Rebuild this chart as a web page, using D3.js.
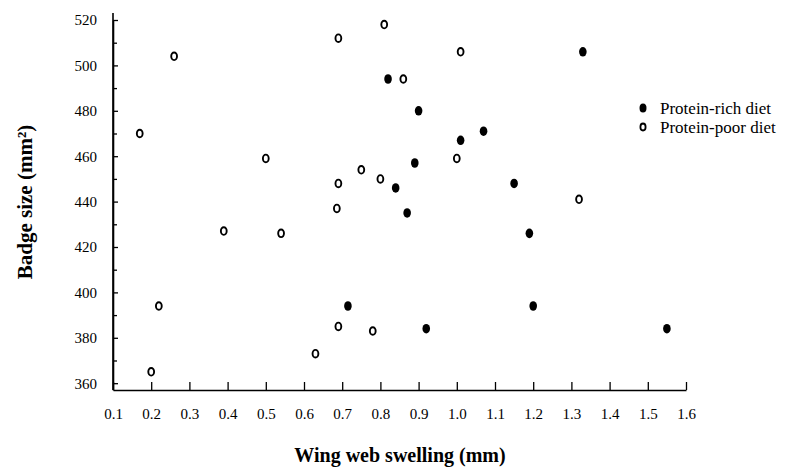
<!DOCTYPE html>
<html>
<head>
<meta charset="utf-8">
<script src="https://cdn.jsdelivr.net/npm/d3@7"></script>
<style>
  body { margin: 0; background: #fff; }
  svg text { font-family: "Liberation Serif", "DejaVu Serif", serif; fill: #000; }
</style>
</head>
<body>
<div id="chart"></div>
<script>
// wing web swelling (mm) and badge size (mm²)
const richX = [0.82, 0.90, 1.07, 1.01, 0.89, 1.15, 0.84, 0.87, 1.19, 1.33, 0.715, 0.92, 1.20, 1.55];
const richY = [494, 480, 471, 467, 457, 448, 446, 435, 426, 506, 394, 384, 394, 384];
const poorX = [0.26, 0.69, 0.81, 0.86, 0.17, 0.50, 0.75, 0.80, 0.69, 0.686, 0.39, 0.54, 0.22, 0.20, 0.69, 0.78, 0.63, 1.01, 1.00, 1.32];
const poorY = [504, 512, 518, 494, 470, 459, 454, 450, 448, 437, 427, 426, 394, 365, 385, 383, 373, 506, 459, 441];
const xTicks = [0.1, 0.2, 0.3, 0.4, 0.5, 0.6, 0.7, 0.8, 0.9, 1.0, 1.1, 1.2, 1.3, 1.4, 1.5, 1.6];
const yTicks = [360, 380, 400, 420, 440, 460, 480, 500, 520];
const yMinorTicks = [370, 390, 410, 430, 450, 470, 490, 510];
const seriesNames = ["Protein-rich diet", "Protein-poor diet"];

const width = 785, height = 475;

const svg = d3.select("#chart").append("svg")
    .attr("width", width)
    .attr("height", height);

// x axis crosses slightly below 360
const x = d3.scaleLinear().domain([0.1, 1.6]).range([113, 686]);
const y = d3.scaleLinear().domain([357, 520]).range([390, 20]);

// axes
svg.append("g")
    .attr("transform", "translate(0," + y(357) + ")")
    .call(d3.axisBottom(x).tickValues(xTicks).tickSize(-8).tickPadding(18)
        .tickFormat(d3.format(".1f")).tickSizeOuter(0));

const yAxis = svg.append("g")
    .attr("transform", "translate(" + x(0.1) + ",0)")
    .call(d3.axisLeft(y).tickValues(yTicks).tickSize(-5).tickPadding(16).tickSizeOuter(0));

svg.append("g")
    .attr("transform", "translate(" + x(0.1) + ",0)")
    .call(d3.axisLeft(y).tickValues(yMinorTicks).tickSize(-4).tickFormat("").tickSizeOuter(0));

svg.selectAll("g").attr("font-family", null);
svg.selectAll(".domain").attr("stroke", "#000").attr("stroke-width", 1.6);
svg.selectAll(".tick line").attr("stroke", "#000").attr("stroke-width", 1.3);
svg.selectAll(".tick text").style("font-size", "15px");
yAxis.select(".domain").attr("d", "M0," + y(357) + "V" + (y(520) - 7));

// points
const rich = richX.map((d, i) => ({ x: d, y: richY[i] }));
const poor = poorX.map((d, i) => ({ x: d, y: poorY[i] }));

svg.append("g").selectAll("ellipse").data(poor).join("ellipse")
    .attr("cx", d => x(d.x))
    .attr("cy", d => y(d.y))
    .attr("rx", 2.9)
    .attr("ry", 3.8)
    .attr("fill", "#fff")
    .attr("stroke", "#000")
    .attr("stroke-width", 1.9);

svg.append("g").selectAll("ellipse").data(rich).join("ellipse")
    .attr("cx", d => x(d.x))
    .attr("cy", d => y(d.y))
    .attr("rx", 3.8)
    .attr("ry", 4.8)
    .attr("fill", "#000");

// legend
const legend = svg.append("g").attr("transform", "translate(643,108)");
legend.append("ellipse").attr("cx", 0).attr("cy", 0).attr("rx", 3.5).attr("ry", 4.6).attr("fill", "#000");
legend.append("ellipse").attr("cx", 0).attr("cy", 19).attr("rx", 2.6).attr("ry", 3.5)
    .attr("fill", "#fff").attr("stroke", "#000").attr("stroke-width", 1.8);
legend.selectAll("text").data(seriesNames).join("text")
    .attr("x", 17)
    .attr("y", (d, i) => i * 19 + 5.5)
    .style("font-size", "17px")
    .text(d => d);

// axis titles
svg.append("text")
    .attr("x", 400)
    .attr("y", 462)
    .attr("text-anchor", "middle")
    .style("font-size", "20px")
    .style("font-weight", "bold")
    .text("Wing web swelling (mm)");

svg.append("text")
    .attr("transform", "translate(32,202) rotate(-90)")
    .attr("text-anchor", "middle")
    .style("font-size", "21px")
    .style("font-weight", "bold")
    .text("Badge size (mm²)");
</script>
</body>
</html>
